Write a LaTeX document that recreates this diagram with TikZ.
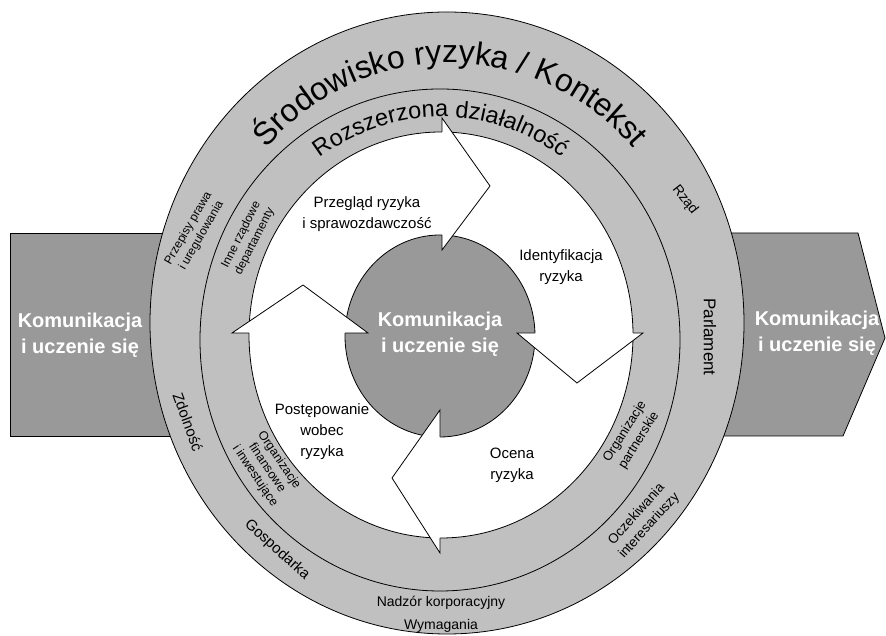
\documentclass[tikz,border=0pt]{standalone}
\usepackage{fontspec}
\setmainfont{Liberation Sans}
\usetikzlibrary{decorations.text}
\definecolor{bandgray}{HTML}{C0C0C0}
\definecolor{komgray}{HTML}{999999}
\begin{document}
\begin{tikzpicture}[x=1pt,y=1pt,
  outl/.style={draw=black,line width=0.8pt},
  steplbl/.style={font=\fontsize{15}{21}\selectfont,align=center,inner sep=0pt},
  bandlbl/.style={align=center,inner sep=0pt},
  kom/.style={text=white,font=\bfseries\fontsize{20}{26}\selectfont,align=center,inner sep=0pt}]
\useasboundingbox (0,0) rectangle (886,636);
% side shapes
\filldraw[fill=komgray,outl] (10,200) rectangle (300,403);
\filldraw[fill=komgray,outl] (600,403) -- (858,403) -- (885,298) -- (843,200) -- (600,200) -- cycle;
% rings
\filldraw[fill=bandgray,outl] (447,313) ellipse [x radius=297,y radius=311];
\draw[outl] (440,296) ellipse [x radius=240,y radius=251];
\filldraw[fill=white,outl] (441,301) ellipse [x radius=192,y radius=203];
\filldraw[fill=komgray,outl] (440,300) ellipse [x radius=95,y radius=101];
% arrow heads
\fill[white] (442,518) -- (490,450) -- (442,386) -- cycle;
\draw[outl] (442,504) -- (442,518) -- (490,450) -- (442,386) -- (442,401);
\fill[white] (517,303) -- (577,253) -- (643,303) -- cycle;
\draw[outl] (535,303) -- (517,303) -- (577,253) -- (643,303) -- (633,303);
\fill[white] (440,226) -- (392,158) -- (440,83) -- cycle;
\draw[outl] (440,199) -- (440,226) -- (392,158) -- (440,83) -- (440,98);
\fill[white] (232,303) -- (303,351) -- (368,303) -- cycle;
\draw[outl] (249,303) -- (232,303) -- (303,351) -- (368,303) -- (345,303);
% arc texts
\path[decorate,decoration={text along path,text align=center,
  text={|\fontsize{32}{32}\selectfont|Środowisko ryzyka / Kontekst}}]
  (450,313) ++(165:248 and 260) arc[start angle=165,end angle=15,x radius=248,y radius=260];
\path[decorate,decoration={text along path,text align=center,
  text={|\fontsize{23.5}{23.5}\selectfont|Rozszerzona działalność}}]
  (441,301) ++(160:208 and 218) arc[start angle=160,end angle=20,x radius=208,y radius=218];
% step labels
\node[steplbl] (przeglad) at (367,422) {Przegląd ryzyka\\i sprawozdawczość};
\node[steplbl] (ident) at (561,369) {Identyfikacja\\ryzyka};
\node[steplbl] (ocena) at (512,171) {Ocena\\ryzyka};
\node[steplbl] (postep) at (322,204) {Postępowanie\\wobec\\ryzyka};
% communication labels
\node[kom] (komc) at (440,302) {Komunikacja\\i uczenie się};
\node[kom] (koml) at (80,301) {Komunikacja\\i uczenie się};
\node[kom] (komr) at (817,303) {Komunikacja\\i uczenie się};
% band labels
\node[bandlbl,font=\fontsize{12}{15}\selectfont,rotate=60] (przepisy) at (195,404) {Przepisy prawa\\i uregulowania};
\node[bandlbl,font=\fontsize{12}{15}\selectfont,rotate=63] (inne) at (248,398) {Inne rządowe\\departamenty};
\node[bandlbl,font=\fontsize{14}{16}\selectfont,rotate=-52] (rzad) at (685,436) {Rząd};
\node[bandlbl,font=\fontsize{17}{19}\selectfont,rotate=-90] (parl) at (710,299) {Parlament};
\node[bandlbl,font=\fontsize{15}{17}\selectfont,rotate=-70] (zdol) at (188,214) {Zdolność};
\node[bandlbl,font=\fontsize{15}{17}\selectfont,rotate=-42] (gosp) at (277,86) {Gospodarka};
\node[bandlbl,font=\fontsize{14}{23}\selectfont] (nadzor) at (441,21.5) {Nadzór korporacyjny\\Wymagania};
\node[bandlbl,font=\fontsize{12.5}{14.5}\selectfont,rotate=-56] (finans) at (267,168) {Organizacje\\finansowe\\i inwestujące};
\node[bandlbl,font=\fontsize{13}{16.5}\selectfont,rotate=58] (partner) at (632,200) {Organizacje\\partnerskie};
\node[bandlbl,font=\fontsize{13.5}{17}\selectfont,rotate=48] (oczek) at (643,116) {Oczekiwania\\interesariuszy};
\end{tikzpicture}
\end{document}
